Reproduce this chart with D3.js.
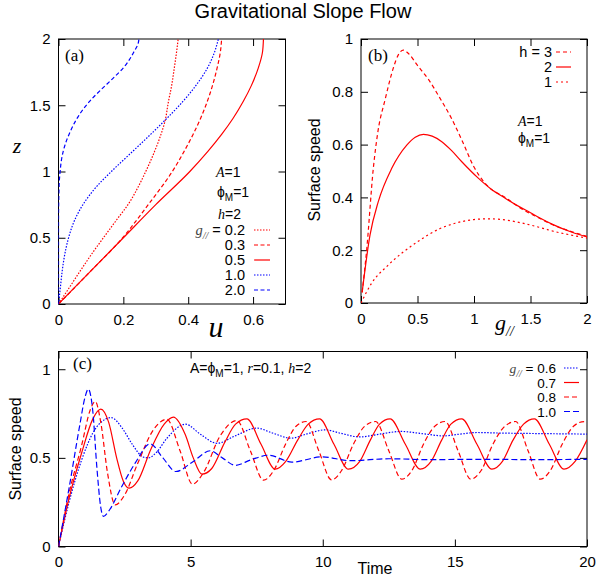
<!DOCTYPE html>
<html>
<head>
<meta charset="utf-8">
<script src="https://cdn.jsdelivr.net/npm/d3@7"></script>
<style>
  body { margin: 0; background: #fff; }
  svg { font-family: "Liberation Sans", Arial, sans-serif; }
  .tick text { font-size: 15px; fill: #000; }
  .tick line { stroke: #000; }
  .serif { font-family: "Liberation Serif", "Times New Roman", serif; font-style: italic; }
  .upright { font-family: "Liberation Serif", "Times New Roman", serif; }
</style>
</head>
<body>
<svg></svg>
<script>
const W = 597, H = 582;

// ---- panel (a): velocity profiles, [u, z] ----
const profileG02 = [[0,0],[0.035,0.13],[0.07,0.26],[0.104,0.383],[0.141,0.508],[0.179,0.634],[0.217,0.76],[0.246,0.885],[0.269,1.0],[0.296,1.15],[0.316,1.28],[0.328,1.376],[0.339,1.527],[0.349,1.65],[0.357,1.78],[0.364,1.9],[0.369,2.0]];
const profileG03 = [[0,0],[0.1,0.25],[0.198,0.5],[0.24,0.63],[0.28,0.76],[0.351,1.0],[0.387,1.15],[0.415,1.28],[0.438,1.4],[0.459,1.53],[0.475,1.65],[0.489,1.78],[0.499,1.9],[0.503,2.0]];
const profileG05 = [[0,0],[0.1,0.25],[0.2,0.5],[0.3,0.75],[0.405,1.0],[0.46,1.15],[0.503,1.28],[0.538,1.4],[0.57,1.53],[0.595,1.65],[0.616,1.78],[0.629,1.9],[0.632,2.0]];
const profileG10 = [[0,0],[0.006,0.13],[0.012,0.26],[0.02,0.383],[0.032,0.508],[0.05,0.634],[0.078,0.76],[0.117,0.885],[0.163,1.0],[0.228,1.15],[0.284,1.28],[0.324,1.376],[0.383,1.527],[0.424,1.65],[0.459,1.78],[0.481,1.9],[0.493,2.0]];
const profileG20 = [[0,0],[0,0.6],[0.002,0.9],[0.005,1.0],[0.01,1.1],[0.02,1.2],[0.036,1.3],[0.062,1.42],[0.095,1.527],[0.13,1.615],[0.168,1.703],[0.203,1.791],[0.232,1.9],[0.246,1.97],[0.248,2.0]];
const legendA = ['0.2', '0.3', '0.5', '1.0', '2.0'];
const uTicks = [0, 0.2, 0.4, 0.6];
const zTicks = [0, 0.5, 1, 1.5, 2];

// ---- panel (b): surface speed vs g, [g, speed] ----
const speedH3 = [[0.01,0.04],[0.05,0.2],[0.109,0.51],[0.15,0.65],[0.213,0.77],[0.286,0.89],[0.33,0.94],[0.375,0.958],[0.42,0.945],[0.5,0.9],[0.6,0.845],[0.7,0.775],[0.8,0.7],[0.9,0.61],[1.0,0.515],[1.05,0.48],[1.128,0.44],[1.276,0.4],[1.424,0.356],[1.571,0.323],[1.719,0.292],[1.867,0.27],[2.0,0.252]];
const speedH2 = [[0.01,0.04],[0.08,0.258],[0.153,0.384],[0.272,0.51],[0.405,0.598],[0.48,0.628],[0.552,0.639],[0.63,0.632],[0.715,0.611],[0.8,0.578],[0.892,0.535],[1.04,0.472],[1.15,0.432],[1.276,0.397],[1.4,0.365],[1.5,0.342],[1.571,0.325],[1.7,0.297],[1.867,0.268],[2.0,0.25]];
const speedH1 = [[0,0],[0.094,0.075],[0.242,0.144],[0.5,0.232],[0.7,0.282],[0.833,0.302],[1.0,0.316],[1.128,0.319],[1.3,0.313],[1.424,0.303],[1.6,0.284],[1.719,0.27],[1.85,0.258],[2.0,0.246]];
const legendB = ['h = 3', '2', '1'];
const gTicks = [0, 0.5, 1, 1.5, 2];
const sTicks = [0, 0.2, 0.4, 0.6, 0.8, 1];

// ---- panel (c): surface speed vs time, [t, speed] ----
const timeG06 = [[0,0],[0.4,0.25],[0.88,0.49],[1.3,0.64],[1.6,0.7],[2.0,0.727],[2.4,0.67],[2.8,0.575],[3.2,0.505],[3.4,0.5],[3.7,0.53],[4.1,0.61],[4.8,0.69],[5.4,0.63],[6.0,0.582],[6.7,0.625],[7.5,0.668],[8.1,0.64],[8.8,0.611],[9.4,0.635],[10.09,0.658],[10.7,0.638],[11.4,0.618],[12.2,0.635],[12.95,0.649],[13.8,0.636],[14.57,0.624],[15.2,0.634],[15.83,0.643],[16.7,0.64],[17.6,0.638],[18.8,0.636],[20,0.634]];
const timeG07 = [[0,0],[0.38,0.26],[0.88,0.53],[1.3,0.72],[1.6,0.775],[1.9,0.7],[2.2,0.5],[2.45,0.37],[2.675,0.329],[3.0,0.37],[3.5,0.55],[4.0,0.69],[4.35,0.73],[4.8,0.63],[5.1,0.5],[5.43,0.408],[5.8,0.44],[6.3,0.59],[6.7,0.69],[7.13,0.72],[7.66,0.578],[8.2,0.436],[8.6,0.48],[9.05,0.6],[9.45,0.69],[9.88,0.72],[10.42,0.578],[10.97,0.436],[11.4,0.48],[11.8,0.6],[12.15,0.69],[12.55,0.72],[13.12,0.578],[13.69,0.436],[14.1,0.48],[14.5,0.6],[14.85,0.69],[15.26,0.72],[15.83,0.578],[16.4,0.436],[16.8,0.48],[17.2,0.6],[17.6,0.69],[18.01,0.72],[18.57,0.578],[19.13,0.436],[19.55,0.48],[20,0.602]];
const timeG08 = [[0,0],[0.4,0.3],[0.88,0.573],[1.2,0.77],[1.39,0.818],[1.6,0.7],[1.85,0.42],[2.145,0.235],[2.5,0.29],[3.0,0.47],[3.6,0.66],[4.1,0.718],[4.6,0.54],[5.07,0.352],[5.5,0.42],[6.1,0.62],[6.75,0.711],[7.26,0.54],[7.76,0.374],[8.15,0.43],[8.6,0.58],[9.0,0.68],[9.37,0.705],[9.85,0.54],[10.33,0.376],[10.72,0.43],[11.17,0.58],[11.6,0.68],[12.0,0.705],[12.5,0.54],[12.99,0.38],[13.38,0.43],[13.82,0.58],[14.25,0.68],[14.63,0.705],[15.12,0.54],[15.6,0.38],[16.0,0.43],[16.45,0.58],[16.9,0.68],[17.3,0.705],[17.77,0.54],[18.23,0.38],[18.62,0.43],[19.07,0.58],[19.5,0.68],[19.9,0.705],[20,0.7]];
const timeG10 = [[0,0],[0.4,0.33],[0.8,0.68],[1.0,0.84],[1.13,0.888],[1.3,0.76],[1.45,0.45],[1.6,0.22],[1.7,0.17],[1.9,0.2],[2.4,0.34],[2.9,0.47],[3.47,0.579],[3.95,0.5],[4.44,0.423],[5.1,0.48],[5.74,0.54],[6.2,0.5],[6.69,0.458],[7.3,0.49],[7.95,0.515],[8.83,0.476],[9.98,0.506],[11.05,0.484],[12.5,0.495],[14.0,0.49],[16.0,0.492],[18.0,0.49],[20.0,0.492]];
const legendC = ['0.6', '0.7', '0.8', '1.0'];
const tTicks = [0, 5, 10, 15, 20];
const vTicks = [0, 0.5, 1];

const RED = '#ff0000', BLUE = '#0000ff';
const DOT = '1.5,1.5', DASH = '4,2.5', LONGDASH = '6,3';
const PHI = '\u03d5';

const svg = d3.select('svg').attr('width', W).attr('height', H);

// draws frame + mirrored inward ticks, returns a clipped group for curves
function panel(id, box, x, y, xTicks, yTicks) {
  const fmt = d => String(d);
  const g = svg.append('g');
  g.append('g').attr('transform', `translate(0,${box.bottom})`)
    .call(d3.axisBottom(x).tickValues(xTicks).tickSizeInner(-7).tickSizeOuter(0).tickPadding(10).tickFormat(fmt))
    .call(s => s.select('.domain').remove());
  g.append('g').attr('transform', `translate(${box.left},0)`)
    .call(d3.axisLeft(y).tickValues(yTicks).tickSizeInner(-7).tickSizeOuter(0).tickPadding(8).tickFormat(fmt))
    .call(s => s.select('.domain').remove());
  g.append('g').attr('transform', `translate(0,${box.top})`)
    .call(d3.axisTop(x).tickValues(xTicks).tickSizeInner(-7).tickSizeOuter(0).tickFormat(''))
    .call(s => s.select('.domain').remove());
  g.append('g').attr('transform', `translate(${box.right},0)`)
    .call(d3.axisRight(y).tickValues(yTicks).tickSizeInner(-7).tickSizeOuter(0).tickFormat(''))
    .call(s => s.select('.domain').remove());
  g.selectAll('.tick text').attr('font-family', null).attr('font-size', null);
  g.append('rect')
    .attr('x', box.left).attr('y', box.top)
    .attr('width', box.right - box.left).attr('height', box.bottom - box.top)
    .attr('fill', 'none').attr('stroke', '#000').attr('stroke-width', 1);
  svg.append('clipPath').attr('id', id).append('rect')
    .attr('x', box.left).attr('y', box.top)
    .attr('width', box.right - box.left).attr('height', box.bottom - box.top);
  return svg.append('g').attr('clip-path', `url(#${id})`);
}

function curve(g, data, line, color, dash) {
  g.append('path').datum(data)
    .attr('d', line)
    .attr('fill', 'none')
    .attr('stroke', color)
    .attr('stroke-width', 1.2)
    .attr('stroke-dasharray', dash);
}

function legendLine(x1, x2, yy, color, dash) {
  svg.append('line').attr('x1', x1).attr('x2', x2).attr('y1', yy).attr('y2', yy)
    .attr('stroke', color).attr('stroke-width', 1.2).attr('stroke-dasharray', dash);
}

// "g// = value" legend header
function gLabel(t, lab) {
  t.append('tspan').attr('class', 'serif').attr('fill', '#444').text('g');
  t.append('tspan').attr('class', 'serif').attr('fill', '#444').attr('font-size', 10).attr('dy', 4).text('//');
  t.append('tspan').attr('dy', -4).text(' = ' + lab);
}

// "ϕM=1" text
function phiLabel(t, after) {
  t.append('tspan').text(PHI);
  t.append('tspan').attr('font-size', 10).attr('dy', 4).text('M');
  t.append('tspan').attr('dy', -4).text(after);
}

// title
svg.append('text').attr('x', 303).attr('y', 18).attr('text-anchor', 'middle')
  .attr('font-size', 20).text('Gravitational Slope Flow');

// ---------------- panel (a) ----------------
const boxA = {left: 58.5, right: 285.5, top: 39, bottom: 304};
const xA = d3.scaleLinear().domain([0, 0.7]).range([boxA.left, boxA.right]);
const yA = d3.scaleLinear().domain([0, 2]).range([boxA.bottom, boxA.top]);
const gA = panel('clipA', boxA, xA, yA, uTicks, zTicks);
const lineA = d3.line().x(d => xA(d[0])).y(d => yA(d[1])).curve(d3.curveMonotoneY);
const seriesA = [
  [profileG02, RED, DOT], [profileG03, RED, DASH], [profileG05, RED, null],
  [profileG10, BLUE, DOT], [profileG20, BLUE, DASH]
];
seriesA.forEach(s => curve(gA, s[0], lineA, s[1], s[2]));

svg.append('text').attr('x', 65).attr('y', 61).attr('class', 'upright')
  .attr('font-size', 17).text('(a)');
svg.append('text').attr('x', 17).attr('y', 153).attr('text-anchor', 'middle')
  .attr('class', 'serif').attr('font-size', 22).text('z');
svg.append('text').attr('x', 216).attr('y', 337).attr('text-anchor', 'middle')
  .attr('class', 'serif').attr('font-size', 30).text('u');

const tA1 = svg.append('text').attr('x', 216).attr('y', 177).attr('font-size', 14);
tA1.append('tspan').attr('class', 'serif').text('A');
tA1.append('tspan').text('=1');
phiLabel(svg.append('text').attr('x', 217).attr('y', 197).attr('font-size', 14), '=1');
const tA3 = svg.append('text').attr('x', 218).attr('y', 219).attr('font-size', 14);
tA3.append('tspan').attr('class', 'serif').text('h');
tA3.append('tspan').text('=2');

legendA.forEach((lab, i) => {
  const cy = 230 + i * 15;
  const t = svg.append('text').attr('x', 245).attr('y', cy + 5)
    .attr('text-anchor', 'end').attr('font-size', 14.5);
  if (i === 0) gLabel(t, lab); else t.text(lab);
  legendLine(254, 270, cy, seriesA[i][1], seriesA[i][2]);
});

// ---------------- panel (b) ----------------
const boxB = {left: 361, right: 587, top: 39, bottom: 303};
const xB = d3.scaleLinear().domain([0, 2]).range([boxB.left, boxB.right]);
const yB = d3.scaleLinear().domain([0, 1]).range([boxB.bottom, boxB.top]);
const gB = panel('clipB', boxB, xB, yB, gTicks, sTicks);
const lineB = d3.line().x(d => xB(d[0])).y(d => yB(d[1])).curve(d3.curveMonotoneX);
const seriesB = [[speedH3, RED, '4,3'], [speedH2, RED, null], [speedH1, RED, '2,3']];
seriesB.forEach(s => curve(gB, s[0], lineB, s[1], s[2]));

svg.append('text').attr('x', 368).attr('y', 61).attr('class', 'upright')
  .attr('font-size', 17).text('(b)');
legendB.forEach((lab, i) => {
  const cy = 52 + i * 15;
  svg.append('text').attr('x', 552).attr('y', cy + 5).attr('text-anchor', 'end')
    .attr('font-size', 14.5).text(lab);
  legendLine(556, 571, cy, seriesB[i][1], seriesB[i][2]);
});
const tB1 = svg.append('text').attr('x', 518).attr('y', 126).attr('font-size', 14);
tB1.append('tspan').attr('class', 'serif').text('A');
tB1.append('tspan').text('=1');
phiLabel(svg.append('text').attr('x', 518).attr('y', 143).attr('font-size', 14), '=1');

svg.append('text').attr('transform', 'translate(320,170) rotate(-90)')
  .attr('text-anchor', 'middle').attr('font-size', 16).text('Surface speed');
const tgB = svg.append('text').attr('x', 495).attr('y', 330).attr('font-size', 22);
tgB.append('tspan').attr('class', 'serif').text('g');
tgB.append('tspan').attr('class', 'serif').attr('font-size', 14).attr('dy', 6).text('//');

// ---------------- panel (c) ----------------
const boxC = {left: 58.5, right: 587, top: 351.5, bottom: 546.5};
const xC = d3.scaleLinear().domain([0, 20]).range([boxC.left, boxC.right]);
const yC = d3.scaleLinear().domain([0, 1.1]).range([boxC.bottom, boxC.top]);
const gC = panel('clipC', boxC, xC, yC, tTicks, vTicks);
const lineC = d3.line().x(d => xC(d[0])).y(d => yC(d[1])).curve(d3.curveMonotoneX);
const seriesC = [[timeG06, BLUE, DOT], [timeG07, RED, null], [timeG08, RED, '5,3'], [timeG10, BLUE, LONGDASH]];
seriesC.forEach(s => curve(gC, s[0], lineC, s[1], s[2]));

svg.append('text').attr('x', 73).attr('y', 369).attr('class', 'upright')
  .attr('font-size', 17).text('(c)');
const tC = svg.append('text').attr('x', 190).attr('y', 373).attr('font-size', 14);
tC.append('tspan').text('A=');
phiLabel(tC, '=1,  ');
tC.append('tspan').attr('class', 'serif').text('r');
tC.append('tspan').text('=0.1,  ');
tC.append('tspan').attr('class', 'serif').text('h');
tC.append('tspan').text('=2');

legendC.forEach((lab, i) => {
  const cy = 368 + i * 14.5;
  const t = svg.append('text').attr('x', 556).attr('y', cy + 5)
    .attr('text-anchor', 'end').attr('font-size', 13.5);
  if (i === 0) gLabel(t, lab); else t.text(lab);
  legendLine(564, 579, cy, seriesC[i][1], seriesC[i][2]);
});

svg.append('text').attr('transform', 'translate(21,449) rotate(-90)')
  .attr('text-anchor', 'middle').attr('font-size', 16).text('Surface speed');
svg.append('text').attr('x', 375).attr('y', 574).attr('text-anchor', 'middle')
  .attr('font-size', 16).text('Time');
</script>
</body>
</html>
